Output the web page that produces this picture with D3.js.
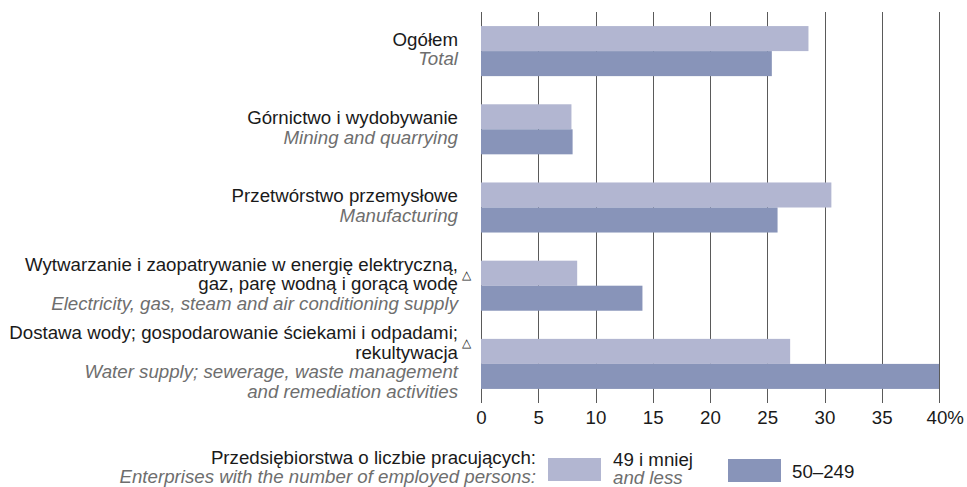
<!DOCTYPE html>
<html>
<head>
<meta charset="utf-8">
<script src="https://cdn.jsdelivr.net/npm/d3@7"></script>
<style>
  body { margin: 0; background: #fff; }
  svg { display: block; font-family: "Liberation Sans", Arial, sans-serif; }
</style>
</head>
<body>
<svg id="chart" width="967" height="487"></svg>
<script>
'use strict';

// Category labels (Polish lines, English lines, footnote flag)
var categoriesPl = [
  ['Ogółem'],
  ['Górnictwo i wydobywanie'],
  ['Przetwórstwo przemysłowe'],
  ['Wytwarzanie i zaopatrywanie w energię elektryczną,', 'gaz, parę wodną i gorącą wodę'],
  ['Dostawa wody; gospodarowanie ściekami i odpadami;', 'rekultywacja']
];
var categoriesEn = [
  ['Total'],
  ['Mining and quarrying'],
  ['Manufacturing'],
  ['Electricity, gas, steam and air conditioning supply'],
  ['Water supply; sewerage, waste management', 'and remediation activities']
];
var footnote = [false, false, false, true, true];

// Series values, %
var small = [28.6, 7.9, 30.6, 8.4, 27.0];   // 49 i mniej
var medium = [25.4, 8.0, 25.9, 14.1, 40.0]; // 50–249

var xTicks = [0, 5, 10, 15, 20, 25, 30, 35, 40];

var colors = { small: '#b2b6d1', medium: '#8894b9' };
var fontSize = '18.7px';

var svg = d3.select('#chart'),
  margin = { left: 481, right: 28, top: 12, bottom: 84 },
  width = 967 - margin.left - margin.right,
  height = 487 - margin.top - margin.bottom;

var x = d3.scaleLinear().domain([0, 40]).range([0, width]);
var y = d3.scaleBand()
  .domain(d3.range(categoriesPl.length))
  .range([0, height])
  .paddingInner(0.36)
  .paddingOuter(0.18);
var sub = d3.scaleBand().domain(['small', 'medium']).range([0, y.bandwidth()]);

var g = svg.append('g').attr('transform', 'translate(' + margin.left + ',' + margin.top + ')');

//gridlines, drawn under the bars
g.append('g').attr('class', 'grid')
  .selectAll('line')
  .data(xTicks)
  .join('line')
  .attr('x1', function(d) { return Math.round(x(d)) + 0.5; })
  .attr('x2', function(d) { return Math.round(x(d)) + 0.5; })
  .attr('y1', 0)
  .attr('y2', height)
  .attr('stroke', '#5a5a5a')
  .attr('stroke-width', 1);

//bars
var rows = d3.range(categoriesPl.length).map(function(i) {
  return [
    { key: 'small', i: i, v: small[i] },
    { key: 'medium', i: i, v: medium[i] }
  ];
});

g.append('g').selectAll('rect')
  .data(d3.merge(rows))
  .join('rect')
  .attr('x', x(0))
  .attr('y', function(d) { return y(d.i) + sub(d.key); })
  .attr('width', function(d) { return x(d.v) - x(0); })
  .attr('height', sub.bandwidth())
  .attr('fill', function(d) { return colors[d.key]; });

//x axis labels
var xAxis = d3.axisBottom(x)
  .tickValues(xTicks)
  .tickSize(0)
  .tickPadding(8)
  .tickFormat(function(d) { return d === 40 ? '40%' : d; });

var axisG = g.append('g')
  .attr('transform', 'translate(0,' + height + ')')
  .call(xAxis);
axisG.select('.domain').remove();
axisG.selectAll('text')
  .attr('fill', '#1a1a1a')
  .style('font-size', fontSize);
axisG.selectAll('.tick')
  .filter(function(d) { return d === 40; })
  .select('text')
  .attr('text-anchor', 'start')
  .attr('x', -13);

//category labels, centred on each group
var lineH = 19.6;
var labelX = -23;

categoriesPl.forEach(function(pl, i) {
  var lines = pl.map(function(t) { return { t: t, en: false }; })
    .concat(categoriesEn[i].map(function(t) { return { t: t, en: true }; }));
  var cy = y(i) + y.bandwidth() / 2 - 2,
    top = cy - (lines.length - 1) * lineH / 2;

  var txt = g.append('text')
    .attr('text-anchor', 'end')
    .style('font-size', fontSize);

  lines.forEach(function(l, k) {
    txt.append('tspan')
      .attr('x', labelX)
      .attr('y', top + k * lineH)
      .attr('dy', '0.35em')
      .attr('fill', l.en ? '#6e6e6e' : '#1a1a1a')
      .style('font-style', l.en ? 'italic' : 'normal')
      .text(l.t);
  });

  //footnote mark next to the last Polish line
  if (footnote[i]) {
    g.append('text')
      .attr('x', labelX + 4)
      .attr('y', top + (pl.length - 1) * lineH - 5)
      .attr('fill', '#1a1a1a')
      .style('font-size', '12px')
      .text('\u25B3');
  }
});

//legend
var legend = svg.append('g').attr('class', 'legend');

legend.append('text')
  .attr('x', 536)
  .attr('y', 457)
  .attr('dy', '0.35em')
  .attr('text-anchor', 'end')
  .attr('fill', '#1a1a1a')
  .style('font-size', fontSize)
  .text('Przedsiębiorstwa o liczbie pracujących:');
legend.append('text')
  .attr('x', 536)
  .attr('y', 476)
  .attr('dy', '0.35em')
  .attr('text-anchor', 'end')
  .attr('fill', '#6e6e6e')
  .style('font-size', fontSize)
  .style('font-style', 'italic')
  .text('Enterprises with the number of employed persons:');

legend.append('rect')
  .attr('x', 548).attr('y', 458).attr('width', 53).attr('height', 23)
  .attr('fill', colors.small);
legend.append('text')
  .attr('x', 613).attr('y', 459).attr('dy', '0.35em')
  .attr('fill', '#1a1a1a').style('font-size', fontSize)
  .text('49 i mniej');
legend.append('text')
  .attr('x', 613).attr('y', 477).attr('dy', '0.35em')
  .attr('fill', '#6e6e6e').style('font-size', fontSize).style('font-style', 'italic')
  .text('and less');

legend.append('rect')
  .attr('x', 728).attr('y', 459).attr('width', 53).attr('height', 23)
  .attr('fill', colors.medium);
legend.append('text')
  .attr('x', 792).attr('y', 471).attr('dy', '0.35em')
  .attr('fill', '#1a1a1a').style('font-size', fontSize)
  .text('50–249');
</script>
</body>
</html>
